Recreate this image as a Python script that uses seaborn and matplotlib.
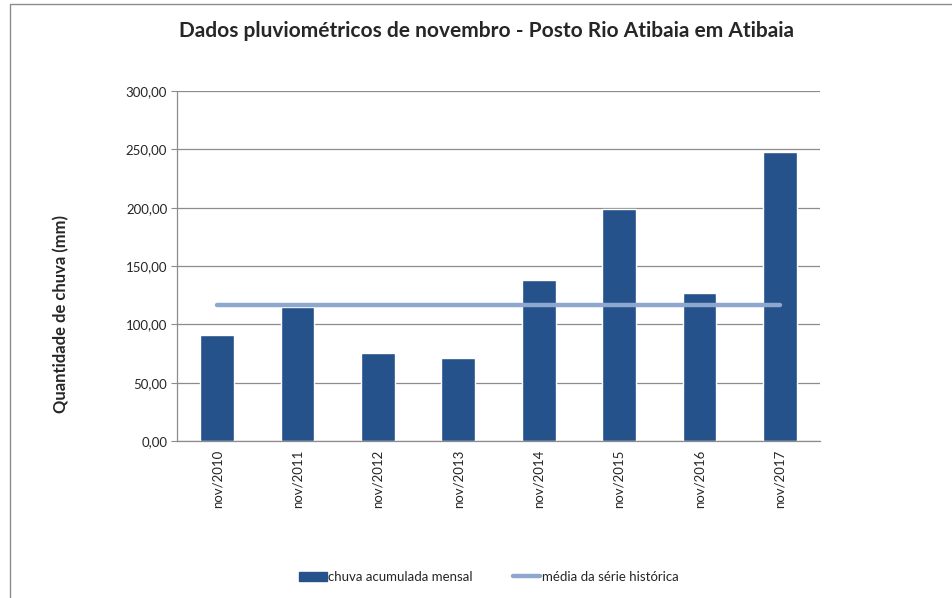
import matplotlib
matplotlib.use("Agg")
import matplotlib.pyplot as plt
import seaborn as sns
import pandas as pd
from matplotlib.ticker import FuncFormatter
from matplotlib.patches import Rectangle
from matplotlib.lines import Line2D

# Data
meses = ["nov/2010", "nov/2011", "nov/2012", "nov/2013",
         "nov/2014", "nov/2015", "nov/2016", "nov/2017"]
chuva = [91.0, 115.2, 75.5, 71.2, 138.0, 198.6, 126.8, 247.6]
media = 116.3
y_ticks = [0, 50, 100, 150, 200, 250, 300]

cor_barra = "#25528a"
cor_media = "#8ea7cf"

sns.set_style("white")
plt.rcParams["font.family"] = ["Lato", "DejaVu Sans"]

df = pd.DataFrame({"mes": meses, "chuva": chuva, "media": [media] * len(meses)})

fig = plt.figure(figsize=(9.53, 5.98), dpi=100)
ax = fig.add_axes([0.1857, 0.2625, 0.6747, 0.5853])

sns.barplot(data=df, x="mes", y="chuva", color=cor_barra, width=0.42,
            saturation=1, ax=ax, zorder=2)
sns.lineplot(data=df, x="mes", y="media", color=cor_media, linewidth=3.2,
             ax=ax, zorder=3, solid_capstyle="round")

ax.set_ylim(0, 300)
ax.set_xlim(-0.5, len(meses) - 0.5)
ax.set_yticks(y_ticks)
ax.yaxis.set_major_formatter(FuncFormatter(lambda v, p: f"{v:.2f}".replace(".", ",")))
ax.grid(axis="y", color="#8c8c8c", linewidth=0.9, zorder=0)
ax.set_axisbelow(True)
for s in ["top", "right"]:
    ax.spines[s].set_visible(False)
for s in ["left", "bottom"]:
    ax.spines[s].set_color("#8c8c8c")
    ax.spines[s].set_linewidth(0.9)

ax.tick_params(axis="y", labelsize=9.5, length=4, color="#8c8c8c", direction="out", left=True, pad=3)
ax.tick_params(axis="x", labelsize=9.5, length=0, pad=6)
plt.setp(ax.get_xticklabels(), rotation=90)

ax.set_xlabel("")
ax.set_ylabel("Quantidade de chuva (mm)", fontsize=12, fontweight="bold")
ax.yaxis.set_label_coords(-0.167, 0.363)

fig.suptitle("Dados pluviométricos de novembro - Posto Rio Atibaia em Atibaia",
             fontsize=15, fontweight="bold", x=0.51, y=0.965)

handles = [Rectangle((0, 0), 1, 1, color=cor_barra),
           Line2D([0], [0], color=cor_media, linewidth=3.2)]
fig.legend(handles, ["chuva acumulada mensal", "média da série histórica"],
           loc="center", bbox_to_anchor=(0.513, 0.035), ncol=2, frameon=False,
           fontsize=9.5, handlelength=2.1, handletextpad=0.1, columnspacing=3.0)

# chart border
fig.patches.append(Rectangle((0.0105, -0.01), 1.0, 1.0033, transform=fig.transFigure,
                             fill=False, edgecolor="#8c8c8c", linewidth=1.0))

fig.savefig("out.png", dpi=100)
